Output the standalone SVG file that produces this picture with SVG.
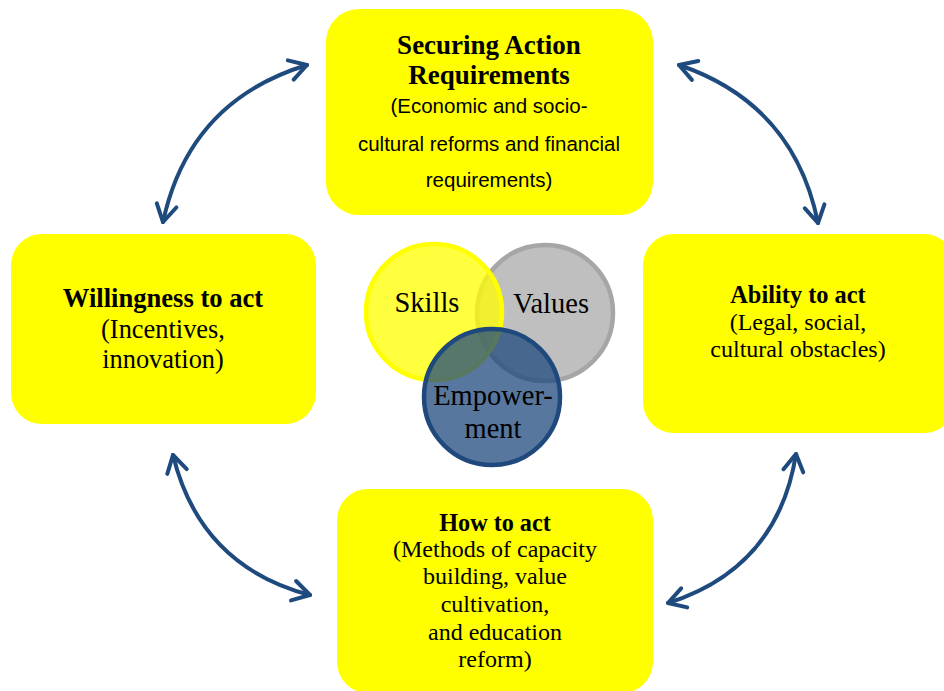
<svg xmlns="http://www.w3.org/2000/svg" width="944" height="691" viewBox="0 0 944 691">
  <style>
    .box { fill: #FFFF00; }
    .t { font-family: "Liberation Serif", "Times New Roman", serif; fill: #000; text-anchor: middle; }
    .b { font-weight: bold; }
    .s { font-family: "Liberation Sans", Arial, sans-serif; fill: #000; text-anchor: middle; font-size: 20.5px; }
    .link { fill: none; stroke: #1F4A7E; stroke-width: 4; stroke-linecap: round; }
  </style>
  <defs>
    <marker id="chev" viewBox="-22 -14 26 28" refX="0" refY="0" markerWidth="26" markerHeight="28" markerUnits="userSpaceOnUse" orient="auto-start-reverse">
      <path d="M-17,-10 L0,0 L-17,10" fill="none" stroke="#1F4A7E" stroke-width="4" stroke-linecap="round" stroke-linejoin="round"/>
    </marker>
  </defs>

  <rect width="944" height="691" fill="#FFFFFF"/>

  <!-- outer boxes -->
  <g id="securing">
    <rect class="box" x="326" y="9" width="327" height="206" rx="33" ry="33"/>
    <text class="t b" x="489" y="54" font-size="27">Securing Action</text>
    <text class="t b" x="489" y="84" font-size="27">Requirements</text>
    <text class="s" x="489" y="113">(Economic and socio-</text>
    <text class="s" x="489" y="151">cultural reforms and financial</text>
    <text class="s" x="489" y="187">requirements)</text>
  </g>

  <g id="willingness">
    <rect class="box" x="11" y="234" width="305" height="190" rx="31" ry="31"/>
    <text class="t b" x="163" y="307" font-size="26.6">Willingness to act</text>
    <text class="t" x="163" y="338" font-size="26.4">(Incentives,</text>
    <text class="t" x="163" y="368" font-size="26.4">innovation)</text>
  </g>

  <g id="ability">
    <rect class="box" x="643" y="234" width="312" height="199" rx="31" ry="31"/>
    <text class="t b" x="798" y="303" font-size="24.4">Ability to act</text>
    <text class="t" x="798" y="330" font-size="24">(Legal, social,</text>
    <text class="t" x="798" y="357" font-size="24">cultural obstacles)</text>
  </g>

  <g id="how">
    <rect class="box" x="337" y="489" width="316" height="204" rx="31" ry="31"/>
    <text class="t b" x="495" y="531" font-size="24.2">How to act</text>
    <text class="t" x="495" y="557" font-size="24">(Methods of capacity</text>
    <text class="t" x="495" y="584" font-size="24">building, value</text>
    <text class="t" x="495" y="612" font-size="24">cultivation,</text>
    <text class="t" x="495" y="640" font-size="24">and education</text>
    <text class="t" x="495" y="667" font-size="24">reform)</text>
  </g>

  <!-- central venn -->
  <g id="values">
    <circle cx="545" cy="313" r="68" fill="#BFBFBF" stroke="#A6A6A6" stroke-width="4.5"/>
  </g>
  <g id="skills">
    <circle cx="434" cy="312" r="68" fill="#FFFF00" fill-opacity="0.76" stroke="#FFFF00" stroke-width="4.5"/>
  </g>
  <g id="empowerment">
    <circle cx="492" cy="397" r="68" fill="#1F497D" fill-opacity="0.75" stroke="#1F497D" stroke-width="4.5"/>
  </g>
  <g id="venn-labels">
    <text class="t" x="427" y="312" font-size="28.5">Skills</text>
    <text class="t" x="551" y="313" font-size="28.5">Values</text>
    <text class="t" x="493" y="405" font-size="28.5">Empower-</text>
    <text class="t" x="493" y="438" font-size="28.5">ment</text>
  </g>

  <!-- two-way connectors between the outer boxes -->
  <g id="connectors">
    <path class="link" d="M163,222 Q189,101 307,65" marker-start="url(#chev)" marker-end="url(#chev)"/>
    <path class="link" d="M679,65 Q794,104 818,223" marker-start="url(#chev)" marker-end="url(#chev)"/>
    <path class="link" d="M173,455 Q200,566 310,595" marker-start="url(#chev)" marker-end="url(#chev)"/>
    <path class="link" d="M796,454 Q778,568 668,603" marker-start="url(#chev)" marker-end="url(#chev)"/>
  </g>
</svg>
